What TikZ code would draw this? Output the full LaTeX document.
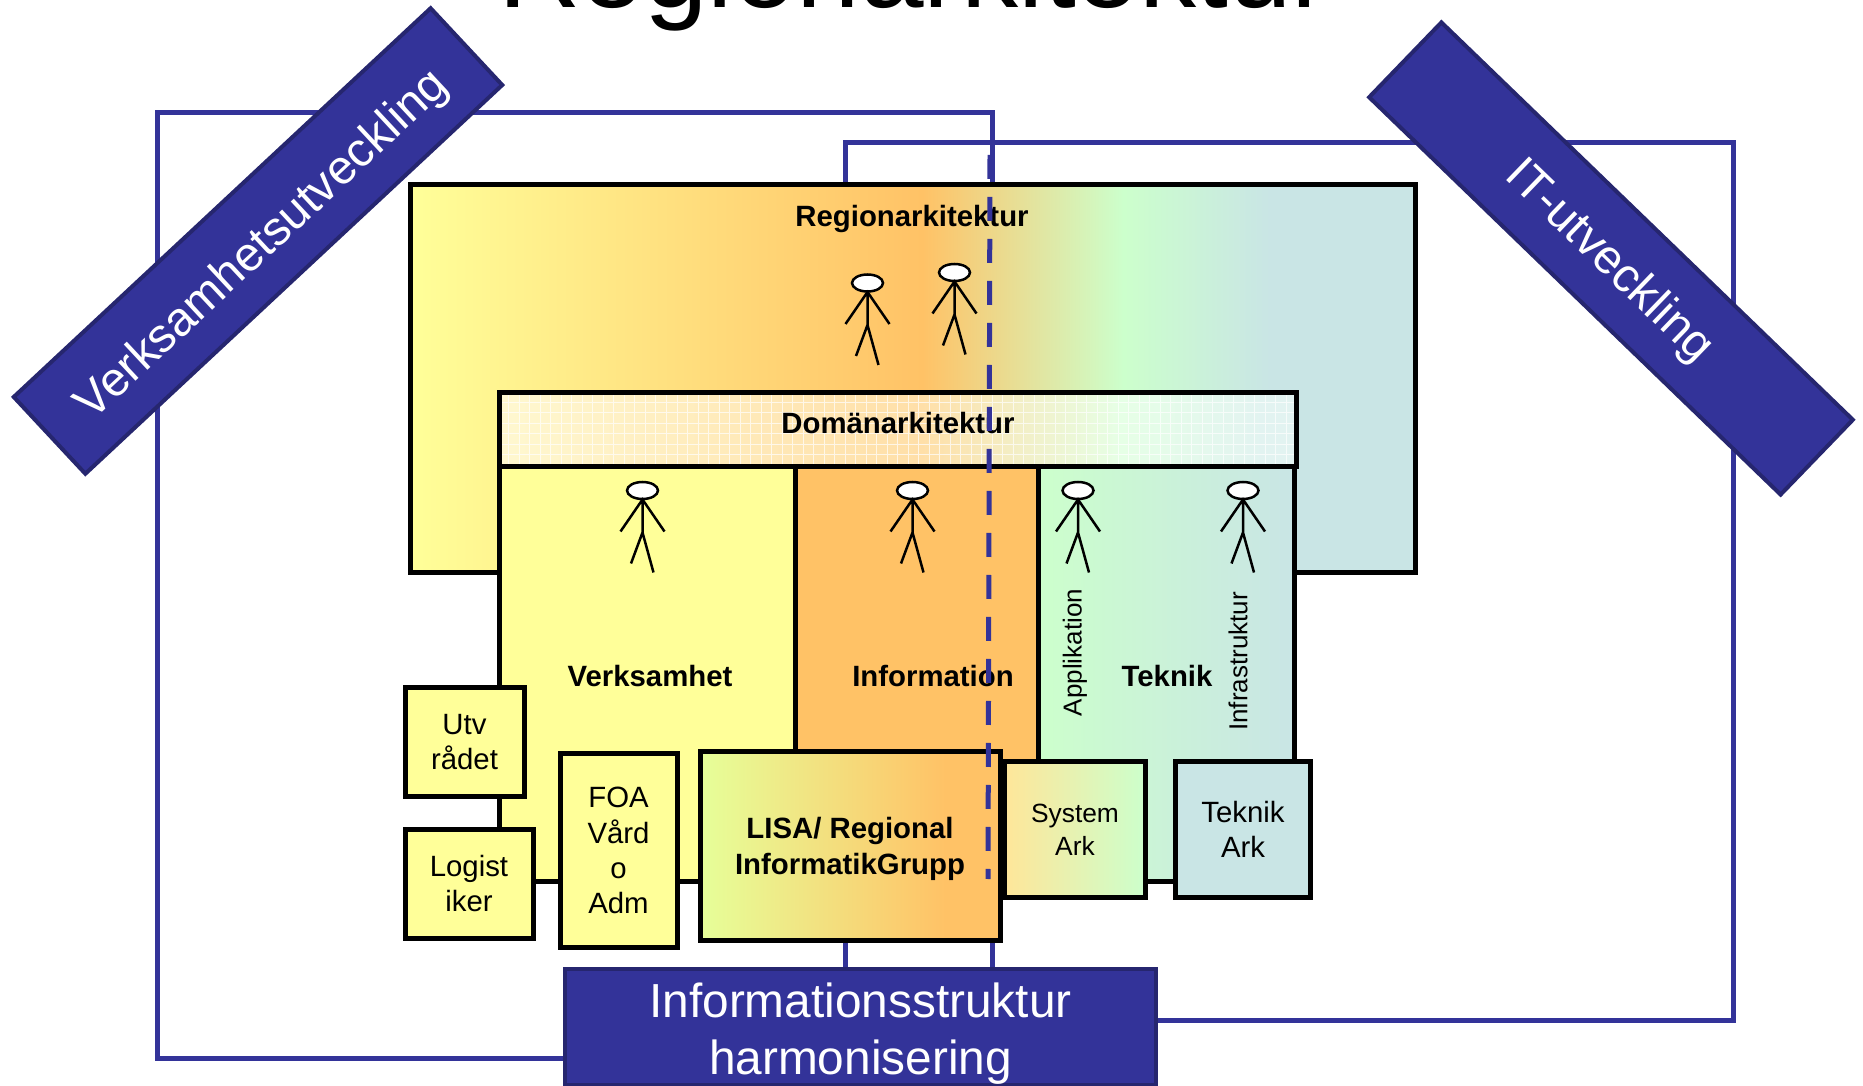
\documentclass[tikz,border=0pt]{standalone}
\usepackage{fontspec}
\setmainfont{Liberation Sans}

\definecolor{bannerblue}{HTML}{333399}
\definecolor{bannerline}{HTML}{26266F}
\definecolor{verkyellow}{HTML}{FFFF99}
\definecolor{infoorange}{HTML}{FFC266}
\definecolor{tekgreen}{HTML}{CCFFCC}
\definecolor{tekblue}{HTML}{C9E5E5}
\definecolor{sysyellow}{HTML}{FFE699}
\definecolor{lisagreen}{HTML}{E6FF99}
\definecolor{paleyellow}{HTML}{FFF8D0}
\definecolor{paleorange}{HTML}{FFDFA8}
\definecolor{palegreen}{HTML}{E6FFE6}
\definecolor{paleblue}{HTML}{E2F3F1}

\pgfdeclarehorizontalshading{regionshade}{100bp}{color(0bp)=(verkyellow); color(25bp)=(verkyellow); color(50.5bp)=(infoorange); color(60.5bp)=(tekgreen); color(67.8bp)=(tekblue); color(100bp)=(tekblue)}
\pgfdeclarehorizontalshading{domainshade}{100bp}{color(0bp)=(paleyellow); color(25bp)=(paleyellow); color(51.5bp)=(paleorange); color(64bp)=(palegreen); color(73bp)=(paleblue); color(100bp)=(paleblue)}
\pgfdeclarehorizontalshading{lisashade}{100bp}{color(0bp)=(lisagreen); color(25bp)=(lisagreen); color(66bp)=(infoorange); color(100bp)=(infoorange)}

\tikzset{
    archbox/.style={rectangle, draw=black, line width=0.1cm, inner sep=0pt, align=center, execute at begin node={\rule{0pt}{16pt}}, font=\fontsize{16.7}{20}\selectfont},
    boldlabel/.style={inner sep=0pt, align=center, font=\fontsize{16.7}{20.4}\selectfont\bfseries},
    sidelabel/.style={inner sep=0pt, rotate=90, font=\fontsize{14.8}{17}\selectfont},
    bluebanner/.style={rectangle, draw=bannerline, line width=0.08cm, fill=bannerblue, inner sep=0pt},
    bluelabel/.style={inner sep=0pt, text=white, align=center, font=\fontsize{27.2}{32.3}\selectfont},
    bluecorner/.style={rectangle, draw=bannerblue, line width=0.1cm, inner sep=0pt},
    whitegrid/.style={path picture={\draw[white, opacity=0.7, line width=0.02cm, step=0.21cm] (path picture bounding box.south west) grid (path picture bounding box.north east);}},
    stickfig/.pic={
        \draw[line width=0.05cm, fill=white] (0,0) ellipse (0.31 and 0.17);
        \draw[line width=0.05cm] (0,-0.18) -- (0,-0.84) (-0.44,-0.82) -- (0,-0.18) -- (0.44,-0.82) (-0.23,-1.46) -- (0,-0.84) -- (0.22,-1.64);
    }
}

\begin{document}
\begin{tikzpicture}
    \clip (0,0) rectangle (37.26,-21.72);
    \node (title) [inner sep=0pt, anchor=base, font=\fontsize{65}{70}\selectfont] at (18.28,-0.16) {Regionarkitektur};

    \node (verkframe) [bluecorner, minimum width=16.7cm, minimum height=18.9cm] at (11.49,-11.71) {};
    \node (itframe) [bluecorner, minimum width=17.76cm, minimum height=17.54cm] at (25.78,-11.63) {};

    \node (region) [archbox, shading=regionshade, minimum width=20.1cm, minimum height=7.76cm] at (18.25,-7.58) {};
    \node (regionname) [boldlabel] at (18.24,-4.38) {Regionarkitektur};
    \node (domain) [archbox, shading=domainshade, whitegrid, minimum width=15.94cm, minimum height=1.48cm] at (17.95,-8.6) {};
    \node (domainname) [boldlabel] at (17.96,-8.46) {Domänarkitektur};

    \node (verk) [archbox, fill=verkyellow, minimum width=5.92cm, minimum height=8.28cm] at (12.94,-13.48) {};
    \node (verkname) [boldlabel] at (13.0,-13.52) {Verksamhet};
    \node (info) [archbox, fill=infoorange, minimum width=4.86cm, minimum height=8.28cm] at (18.33,-13.48) {};
    \node (infoname) [boldlabel] at (18.66,-13.52) {Information};
    \node (tek) [archbox, left color=tekgreen, right color=tekblue, minimum width=5.12cm, minimum height=8.28cm] at (23.32,-13.48) {};
    \node (tekname) [boldlabel] at (23.34,-13.52) {Teknik};
    \node (appname) [sidelabel] at (21.5,-13.05) {Applikation};
    \node (infraname) [sidelabel] at (24.76,-13.23) {Infrastruktur};

    \foreach \figx/\figy in {17.35/-5.66, 19.09/-5.45, 12.85/-9.81, 18.25/-9.81, 21.56/-9.81, 24.86/-9.81}
        \pic at (\figx,\figy) {stickfig};

    \node (utv) [archbox, fill=verkyellow, minimum width=2.38cm, minimum height=2.16cm] at (9.29,-14.84) {Utv\\rådet};
    \node (logist) [archbox, fill=verkyellow, minimum width=2.56cm, minimum height=2.18cm] at (9.38,-17.67) {Logist\\iker};
    \node (foa) [archbox, fill=verkyellow, minimum width=2.34cm, minimum height=3.86cm] at (12.37,-17.01) {FOA\\Vård\\o\\Adm};
    \node (lisa) [archbox, shading=lisashade, minimum width=6cm, minimum height=3.78cm] at (17.0,-16.92) {};
    \node (lisaname) [boldlabel] at (17.0,-16.98) {LISA/ Regional\\InformatikGrupp};
    \node (system) [archbox, left color=sysyellow, right color=tekgreen, minimum width=2.83cm, minimum height=2.7cm, font=\fontsize{15}{18.8}\selectfont] at (21.5,-16.59) {System\\Ark};
    \node (tekark) [archbox, fill=tekblue, minimum width=2.69cm, minimum height=2.7cm] at (24.86,-16.59) {Teknik\\Ark};

    \node (verkbanner) [bluebanner, rotate=43, minimum width=11.4cm, minimum height=2.1cm] at (5.16,-4.82) {};
    \node (verkbannername) [bluelabel, rotate=43] at (5.26,-4.92) {Verksamhetsutveckling};
    \node (itbanner) [bluebanner, rotate=-44, minimum width=11.44cm, minimum height=2.08cm] at (32.22,-5.17) {};
    \node (itbannername) [bluelabel, rotate=-44] at (32.17,-5.24) {IT-utveckling};
    \node (harmbanner) [bluebanner, minimum width=11.82cm, minimum height=2.32cm] at (17.2,-20.54) {};
    \node (harmname) [bluelabel] at (17.21,-20.68) {Informationsstruktur\\harmonisering};

    % border between the two frames
    \coordinate (splittop) at (19.8,-3.1);
    \coordinate (splitbot) at (19.76,-17.58);
    \draw[bannerblue, line width=0.1cm, dash pattern=on 0.48cm off 0.36cm] (splittop) -- (splitbot);
\end{tikzpicture}
\end{document}
